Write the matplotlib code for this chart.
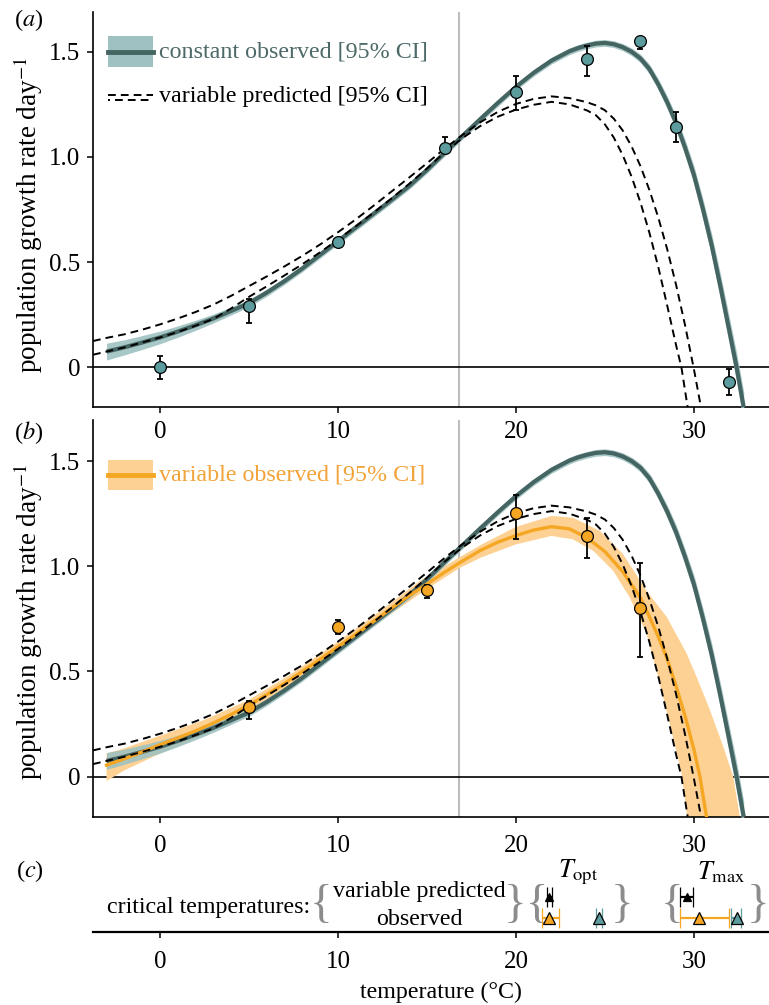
import matplotlib
matplotlib.use('Agg')
import matplotlib.pyplot as plt
from matplotlib.patches import Rectangle
from matplotlib.lines import Line2D

plt.rcParams['font.family'] = ['Liberation Serif', 'DejaVu Serif']
plt.rcParams['mathtext.fontset'] = 'stix'
plt.rcParams['font.size'] = 17

# ---------------- data ----------------
# constant observed fit (centre line and 95% CI half width)
teal_T = [-3, -2, -1, 0, 1, 2, 3, 4, 5, 6, 7, 8, 9, 10, 11, 12, 13, 14, 15, 16, 17, 18, 19, 20,
          21, 22, 23, 23.5, 24, 24.5, 25, 25.5, 26, 26.5, 27, 27.5, 28, 28.5, 29, 29.5, 30,
          30.5, 31, 31.5, 32, 32.4, 32.8]
teal_y = [0.075, 0.095, 0.118, 0.142, 0.170, 0.200, 0.232, 0.268, 0.305, 0.355, 0.41, 0.47,
          0.535, 0.60, 0.665, 0.73, 0.795, 0.862, 0.938, 1.02, 1.10, 1.18, 1.258, 1.333, 1.40,
          1.458, 1.502, 1.518, 1.530, 1.539, 1.542, 1.536, 1.522, 1.50, 1.468, 1.418, 1.345,
          1.26, 1.162, 1.045, 0.915, 0.755, 0.58, 0.38, 0.17, 0.0, -0.19]
teal_ci = [0.04, 0.036, 0.033, 0.03, 0.027, 0.024, 0.021, 0.019, 0.018, 0.017, 0.016, 0.016,
           0.016, 0.016, 0.016, 0.016, 0.016, 0.016, 0.016, 0.016, 0.016, 0.016, 0.016, 0.016,
           0.016, 0.016, 0.016, 0.016, 0.016, 0.016, 0.016, 0.016, 0.017, 0.018, 0.02, 0.023,
           0.026, 0.03, 0.034, 0.038, 0.043, 0.048, 0.054, 0.06, 0.065, 0.07, 0.074]

# variable predicted 95% CI bounds (dashed)
pred_hi_T = [-3.76, -3, -2, -1, 0, 1, 2, 3, 4, 5, 6, 7, 8, 9, 10, 11, 12, 13, 14, 15, 16, 17,
             18, 19, 20, 21, 22, 23, 24, 24.5, 25, 25.5, 26, 26.5, 27, 27.5, 28, 28.5, 29, 29.5,
             30, 30.4]
pred_hi_y = [0.125, 0.14, 0.157, 0.179, 0.204, 0.232, 0.263, 0.298, 0.34, 0.386, 0.432, 0.48,
             0.53, 0.584, 0.642, 0.703, 0.768, 0.835, 0.902, 0.97, 1.04, 1.105, 1.165, 1.215,
             1.252, 1.276, 1.288, 1.28, 1.26, 1.245, 1.222, 1.182, 1.126, 1.05, 0.956, 0.843,
             0.712, 0.562, 0.392, 0.202, -0.008, -0.19]
pred_lo_T = [-3.76, -3, -2, -1, 0, 1, 2, 3, 4, 5, 6, 7, 8, 9, 10, 11, 12, 13, 14, 15, 16, 17,
             18, 19, 20, 21, 22, 23, 24, 24.5, 25, 25.5, 26, 26.5, 27, 27.5, 28, 28.5, 29, 29.3,
             29.65]
pred_lo_y = [0.06, 0.075, 0.095, 0.118, 0.142, 0.168, 0.198, 0.23, 0.28, 0.335, 0.385, 0.437,
             0.49, 0.547, 0.607, 0.67, 0.735, 0.802, 0.872, 0.945, 1.022, 1.09, 1.147, 1.192,
             1.225, 1.248, 1.262, 1.25, 1.221, 1.198, 1.155, 1.092, 1.009, 0.906, 0.783, 0.64,
             0.477, 0.294, 0.105, 0.0, -0.19]

# variable observed fit
var_T = [-3, -2, -1, 0, 1, 2, 3, 4, 5, 6, 7, 8, 9, 10, 11, 12, 13, 14, 15, 16, 17, 18, 19, 20,
         21, 22, 23, 24, 25, 26, 27, 27.5, 28, 28.5, 29, 29.5, 30, 30.34, 30.71]
var_y = [0.055, 0.085, 0.118, 0.152, 0.184, 0.218, 0.255, 0.296, 0.34, 0.39, 0.443, 0.5, 0.558,
         0.617, 0.677, 0.738, 0.8, 0.86, 0.915, 0.972, 1.025, 1.075, 1.115, 1.146, 1.172,
         1.188, 1.178, 1.135, 1.07, 0.975, 0.85, 0.76, 0.665, 0.56, 0.43, 0.29, 0.13, 0.0,
         -0.19]
var_lo_T = [-3, -2, -1, 0, 2.5, 5, 7.5, 10, 12.5, 15, 16.8, 18, 20, 22, 23.2, 24.35, 25.47, 26.4,
            27.34, 28.0, 28.65, 29.3, 29.62]
var_lo_y = [-0.02, 0.03, 0.07, 0.11, 0.2, 0.315, 0.445, 0.592, 0.745, 0.892, 0.99, 1.04, 1.104,
            1.144, 1.128, 1.073, 0.978, 0.851, 0.68, 0.47, 0.25, 0.02, -0.19]
var_hi_T = [-3, -2, -1, 0, 2.5, 5, 7.5, 10, 12.5, 14.6, 16.8, 18, 20, 22, 23.2, 24.72, 26.03,
            27.34, 28.47, 29.59, 30.15, 30.9, 31.65, 32.21, 32.58]
var_hi_y = [0.11, 0.135, 0.165, 0.195, 0.27, 0.365, 0.495, 0.642, 0.795, 0.93, 1.041, 1.1, 1.187,
            1.239, 1.231, 1.168, 1.057, 0.883, 0.76, 0.586, 0.475, 0.317, 0.143, 0.0, -0.19]

# observed growth rates
const_x = [0, 5, 10, 16, 20, 24, 27, 29, 32]
const_r = [0.0, 0.29, 0.595, 1.043, 1.311, 1.465, 1.551, 1.144, -0.068]
const_elo = [0.053, 0.081, 0.01, 0.016, 0.088, 0.08, 0.04, 0.071, 0.064]
const_ehi = [0.053, 0.036, 0.01, 0.052, 0.075, 0.063, 0.02, 0.07, 0.058]

var_x = [5, 10, 15, 20, 24, 27]
var_r = [0.33, 0.713, 0.887, 1.252, 1.146, 0.80]
var_elo = [0.056, 0.034, 0.039, 0.124, 0.105, 0.23]
var_ehi = [0.031, 0.034, 0.024, 0.087, 0.085, 0.217]

# critical temperatures: estimate, lower, upper
topt_pred = (21.88, 21.72, 22.04)
topt_var = (21.88, 21.44, 22.42)
topt_const = (24.66, 24.50, 24.81)
tmax_pred = (29.59, 29.23, 29.93)
tmax_var = (30.30, 29.23, 31.99)
tmax_const = (32.40, 32.08, 32.62)

T_switch = 16.82
xticks = [0, 10, 20, 30]
yticks = [0, 0.5, 1.0, 1.5]
ytick_labels = ['0', '0.5', '1.0', '1.5']

# ---------------- style ----------------
TEAL_LINE = '#456563'
TEAL_BAND = '#9fc1c1'
TEAL_PT = '#5c9c9e'
TEAL_TXT = '#4d6a69'
ORANGE = '#f5a623'
ORANGE_BAND = '#fdd193'
ORANGE_TXT = '#f2a339'
GREY_BRACE = '#8c8c8c'
DASH = (0, (4, 2.6))
FS = 17.3
TICK_FS = 18

W, H = 769, 1005
fig = plt.figure(figsize=(W / 100, H / 100), dpi=100)


def px_axes(x0, y0, x1, y1):
    return fig.add_axes([x0 / W, 1 - y1 / H, (x1 - x0) / W, (y1 - y0) / H])


XLIM = (-3.76, 34.22)
axA = px_axes(93, 12, 769, 406.7)
axB = px_axes(93, 420, 769, 816.5)
axC = px_axes(93, 860, 769, 931.5)
for ax in (axA, axB, axC):
    ax.patch.set_visible(False)


def style(ax, ylim, xpad):
    ax.set_xlim(*XLIM)
    ax.set_ylim(*ylim)
    for s in ('top', 'right'):
        ax.spines[s].set_visible(False)
    for s in ('left', 'bottom'):
        ax.spines[s].set_linewidth(1.2)
    ax.tick_params(direction='out', length=4, width=1.1, labelsize=TICK_FS, pad=5)
    ax.tick_params(axis='x', pad=xpad)
    ax.set_xticks(xticks)
    ax.set_yticks(yticks)
    ax.set_yticklabels(ytick_labels)


def lo(y, c):
    return [a - b for a, b in zip(y, c)]


def hi(y, c):
    return [a + b for a, b in zip(y, c)]


def draw_common(ax):
    ax.axvline(T_switch, color='#bdbdbd', lw=1.5, zorder=0)
    ax.axhline(0, color='k', lw=1.2, zorder=1)
    ax.fill_between(teal_T, lo(teal_y, teal_ci), hi(teal_y, teal_ci), color=TEAL_BAND,
                    lw=0, zorder=3, alpha=0.9)
    ax.plot(teal_T, teal_y, color=TEAL_LINE, lw=3.0, zorder=4, solid_capstyle='butt')


def draw_pred(ax):
    ax.plot(pred_hi_T, pred_hi_y, color='k', lw=1.4, ls=DASH, zorder=6)
    ax.plot(pred_lo_T, pred_lo_y, color='k', lw=1.4, ls=DASH, zorder=6)


def draw_points(ax, x, y, elo, ehi, fc):
    ax.errorbar(x, y, yerr=[elo, ehi], fmt='none', ecolor='k', elinewidth=1.3,
                capsize=2.2, capthick=1.3, zorder=7)
    ax.plot(x, y, 'o', ms=8.5, mfc=fc, mec='k', mew=0.9, zorder=8, ls='none')


# ---------------- panel a ----------------
style(axA, (-0.187, 1.689), 6)
draw_common(axA)
draw_pred(axA)
draw_points(axA, const_x, const_r, const_elo, const_ehi, TEAL_PT)

# legend a (manual)
ta = axA.transAxes
axA.add_patch(Rectangle((0.022, 0.860), 0.067, 0.078, transform=ta, fc=TEAL_BAND, ec='none',
                        zorder=10))
axA.add_line(Line2D([0.022, 0.089], [0.899, 0.899], transform=ta, color=TEAL_LINE, lw=3.5,
                    zorder=11))
axA.text(0.097, 0.899, 'constant observed [95% CI]', transform=ta, color=TEAL_TXT,
         va='center', ha='left', fontsize=FS)
axA.add_line(Line2D([0.022, 0.089], [0.790, 0.790], transform=ta, color='k', lw=1.4, ls=DASH,
                    zorder=11))
axA.add_line(Line2D([0.022, 0.089], [0.777, 0.777], transform=ta, color='k', lw=1.4,
                    ls=(3, (4, 2.6)), zorder=11))
axA.text(0.097, 0.785, 'variable predicted [95% CI]', transform=ta, color='k',
         va='center', ha='left', fontsize=FS)

# ---------------- panel b ----------------
style(axB, (-0.189, 1.695), 9)
band_x = var_hi_T + var_lo_T[::-1]
band_y = var_hi_y + var_lo_y[::-1]
axB.fill(band_x, band_y, color=ORANGE_BAND, lw=0, zorder=2)
draw_common(axB)
axB.plot(var_T, var_y, color=ORANGE, lw=2.4, zorder=5)
draw_pred(axB)
draw_points(axB, var_x, var_r, var_elo, var_ehi, ORANGE)

tb = axB.transAxes
axB.add_patch(Rectangle((0.022, 0.823), 0.067, 0.076, transform=tb, fc=ORANGE_BAND, ec='none',
                        zorder=10))
axB.add_line(Line2D([0.022, 0.089], [0.861, 0.861], transform=tb, color=ORANGE, lw=3.5,
                    zorder=11))
axB.text(0.097, 0.861, 'variable observed [95% CI]', transform=tb, color=ORANGE_TXT,
         va='center', ha='left', fontsize=FS)

# y labels and panel letters
for ycen in (215, 622):
    fig.text(28 / W, 1 - ycen / H, 'population growth rate day$^{-1}$', rotation=90,
             ha='center', va='center', fontsize=19.5)
for lab, (px, py) in zip(['a', 'b', 'c'], [(14, 20), (14, 433), (16, 871)]):
    fig.text(px / W, 1 - py / H, '($%s$)' % lab, ha='left', va='center', fontsize=17.5)

# ---------------- panel c ----------------
axC.set_xlim(*XLIM)
axC.set_ylim(0, 1)
for s in ('top', 'right', 'left'):
    axC.spines[s].set_visible(False)
axC.spines['bottom'].set_linewidth(1.6)
axC.set_yticks([])
axC.set_xticks(xticks)
axC.tick_params(direction='out', length=4, width=1.1, labelsize=TICK_FS, pad=10)
axC.set_xlabel('temperature (°C)', fontsize=FS)
axC.xaxis.set_label_coords(0.515, -0.70)

axC.text(8.43, 0.34, 'critical temperatures:', ha='right', va='center', fontsize=FS)
axC.text(14.6, 0.56, 'variable predicted', ha='center', va='center', fontsize=FS)
axC.text(14.6, 0.17, 'observed', ha='center', va='center', fontsize=FS)
for bx, ch in [(9.05, '{'), (20.6, '}{'), (25.94, '}'), (28.75, '{'), (33.6, '}')]:
    axC.text(bx, 0.36, ch, ha='center', va='center', fontsize=34, color=GREY_BRACE,
             clip_on=False)
axC.text(23.5, 0.83, r'$T_{\rm opt}$', ha='center', va='center', fontsize=19, clip_on=False)
axC.text(31.5, 0.83, r'$T_{\rm max}$', ha='center', va='center', fontsize=19, clip_on=False)


def crit(ax, est, y, color, mfc, ms):
    ax.errorbar([est[0]], [y], xerr=[[est[0] - est[1]], [est[2] - est[0]]], fmt='^',
                color=color, ecolor=color, mfc=mfc, mec='k', ms=ms, mew=0.9,
                elinewidth=1.6, capsize=7, capthick=1.6, zorder=5, clip_on=False)


for est in (topt_pred, tmax_pred):
    crit(axC, est, 0.483, 'k', 'k', 6)
for est in (topt_var, tmax_var):
    crit(axC, est, 0.19, ORANGE, ORANGE, 8)
for est in (topt_const, tmax_const):
    crit(axC, est, 0.19, TEAL_PT, TEAL_PT, 8)

fig.savefig('out.png', dpi=100)
